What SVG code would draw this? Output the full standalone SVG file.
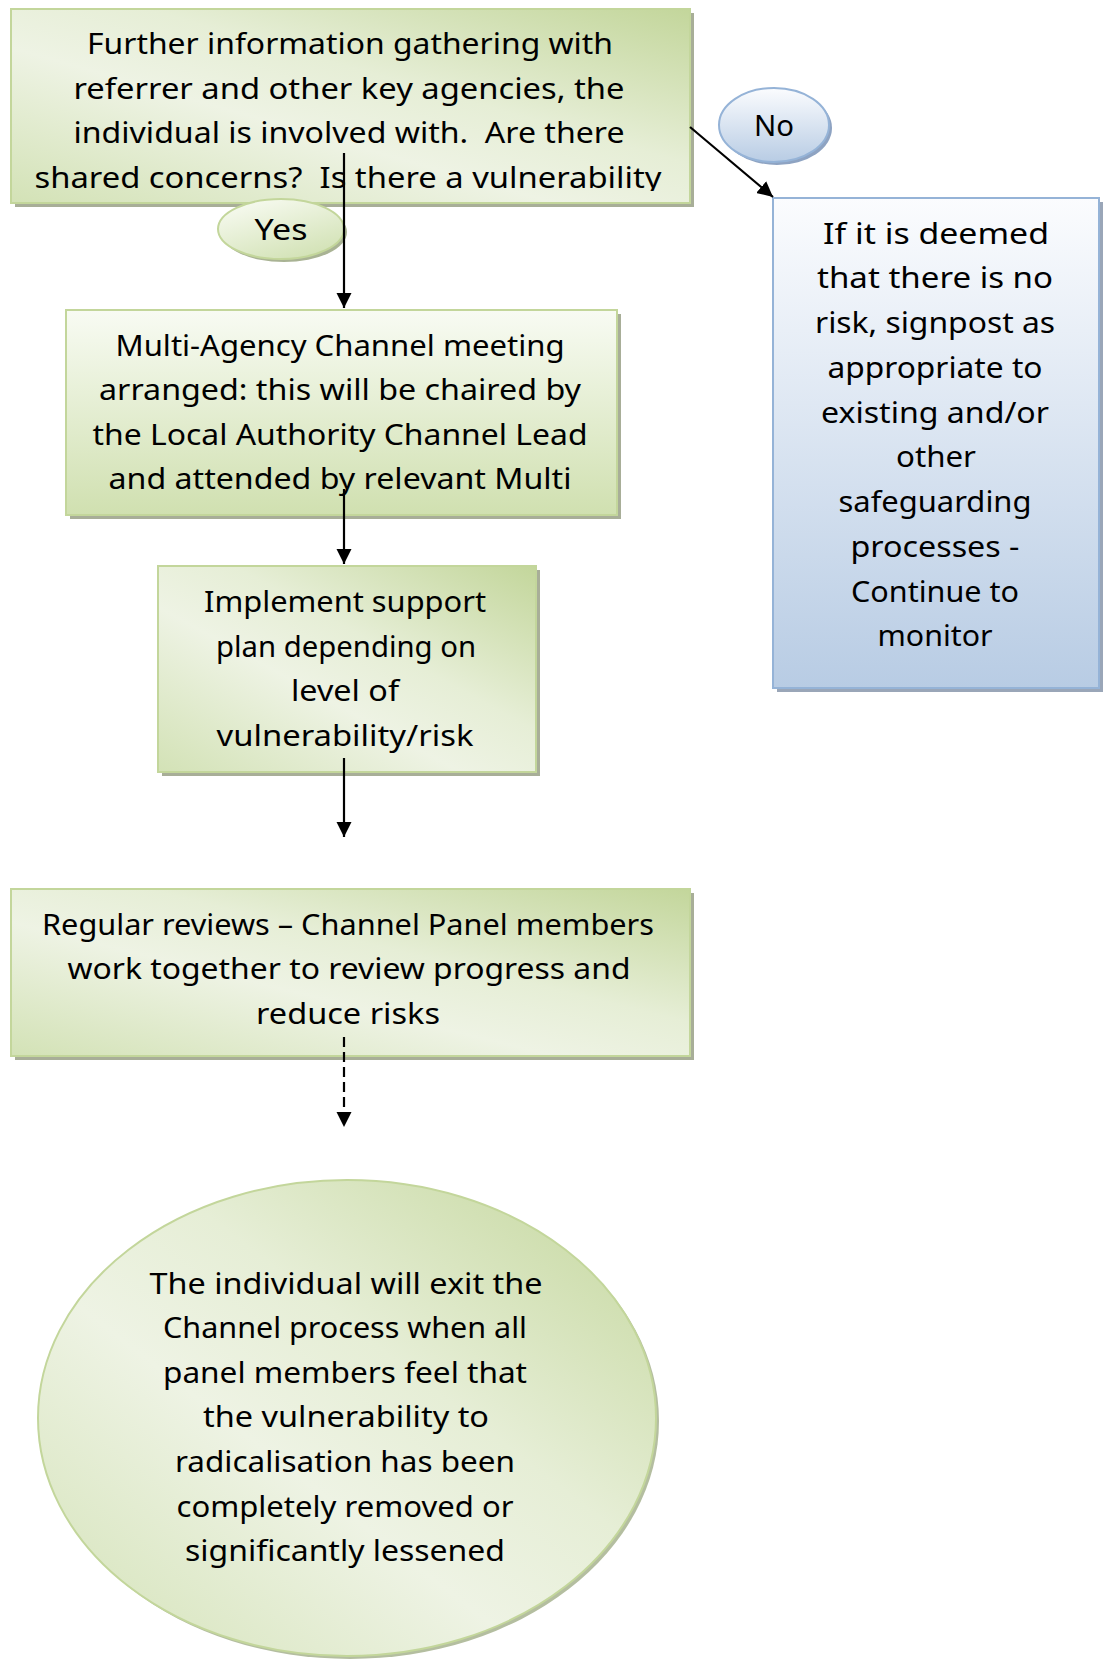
<svg xmlns="http://www.w3.org/2000/svg" width="1106" height="1660" viewBox="0 0 1106 1660">
<style>
.t{font-family:"Noto Sans","DejaVu Sans",sans-serif;font-size:29px;fill:#000;text-anchor:middle}
.g{stroke:#c3d69b;stroke-width:2}
.b{stroke:#95b3d7;stroke-width:2}
.sg{fill:#a8ae98}
.sb{fill:#9aa6b8}
.c{stroke:#000;stroke-width:2.2;fill:none}
</style>
<defs>
<linearGradient id="gd" x1="0" y1="1" x2="1" y2="0">
<stop offset="0" stop-color="#d3e2b6"/>
<stop offset="0.4" stop-color="#eef3e4"/>
<stop offset="0.6" stop-color="#e6eed6"/>
<stop offset="1" stop-color="#c3d69b"/>
</linearGradient>
<linearGradient id="gv" x1="0" y1="0" x2="0" y2="1">
<stop offset="0" stop-color="#f8fbf3"/>
<stop offset="1" stop-color="#d0e0b0"/>
</linearGradient>
<linearGradient id="bv" x1="0" y1="0" x2="0" y2="1">
<stop offset="0" stop-color="#fbfcfe"/>
<stop offset="1" stop-color="#b8cce4"/>
</linearGradient>
<linearGradient id="yv" x1="0" y1="0" x2="0.6" y2="1">
<stop offset="0" stop-color="#fbfdf7"/>
<stop offset="1" stop-color="#d4e3b8"/>
</linearGradient>
<clipPath id="clip1"><rect x="11" y="9" width="679" height="182"/></clipPath>
<marker id="ah" viewBox="0 0 10 10" refX="10" refY="5" markerWidth="7" markerHeight="7" markerUnits="strokeWidth" orient="auto">
<path d="M0,0 L10,5 L0,10 Z" fill="#000"/>
</marker>
</defs>

<g id="node-gather">
<rect class="sg" x="15" y="13" width="679" height="194"/>
<rect class="g" x="11" y="9" width="679" height="194" fill="url(#gd)"/>
<g clip-path="url(#clip1)">
<text class="t" x="350" y="54" textLength="526" lengthAdjust="spacingAndGlyphs">Further information gathering with</text>
<text class="t" x="349" y="99" textLength="551" lengthAdjust="spacingAndGlyphs">referrer and other key agencies, the</text>
<text class="t" x="349" y="143" textLength="551" lengthAdjust="spacingAndGlyphs" xml:space="preserve">individual is involved with.  Are there</text>
<text class="t" x="348" y="188" textLength="627" lengthAdjust="spacingAndGlyphs" xml:space="preserve">shared concerns?  Is there a vulnerability</text>
</g>
</g>

<g id="node-no">
<ellipse cx="777" cy="128" rx="55" ry="37" fill="#8ea3c2"/>
<ellipse class="b" cx="774" cy="125" rx="55" ry="37" fill="url(#bv)"/>
<text class="t" x="774" y="136" textLength="40" lengthAdjust="spacingAndGlyphs">No</text>
</g>

<g id="node-norisk">
<rect class="sb" x="777" y="202" width="326" height="490"/>
<rect class="b" x="773" y="198" width="326" height="490" fill="url(#bv)"/>
<text class="t" x="936" y="244" textLength="226" lengthAdjust="spacingAndGlyphs">If it is deemed</text>
<text class="t" x="935" y="288" textLength="236" lengthAdjust="spacingAndGlyphs">that there is no</text>
<text class="t" x="935" y="333" textLength="240" lengthAdjust="spacingAndGlyphs">risk, signpost as</text>
<text class="t" x="935" y="378" textLength="215" lengthAdjust="spacingAndGlyphs">appropriate to</text>
<text class="t" x="935" y="423" textLength="228" lengthAdjust="spacingAndGlyphs">existing and/or</text>
<text class="t" x="936" y="467" textLength="80" lengthAdjust="spacingAndGlyphs">other</text>
<text class="t" x="935" y="512" textLength="193" lengthAdjust="spacingAndGlyphs">safeguarding</text>
<text class="t" x="935" y="557" textLength="169" lengthAdjust="spacingAndGlyphs">processes -</text>
<text class="t" x="935" y="602" textLength="168" lengthAdjust="spacingAndGlyphs">Continue to</text>
<text class="t" x="935" y="646" textLength="115" lengthAdjust="spacingAndGlyphs">monitor</text>
</g>

<g id="node-yes">
<ellipse cx="284" cy="232" rx="63" ry="30" fill="#a9b394"/>
<ellipse class="g" cx="281" cy="229" rx="63" ry="30" fill="url(#yv)"/>
<text class="t" x="281" y="240" textLength="53" lengthAdjust="spacingAndGlyphs">Yes</text>
</g>

<g id="node-meeting">
<rect class="sg" x="70" y="314" width="551" height="205"/>
<rect class="g" x="66" y="310" width="551" height="205" fill="url(#gv)"/>
<text class="t" x="340" y="356" textLength="449" lengthAdjust="spacingAndGlyphs">Multi-Agency Channel meeting</text>
<text class="t" x="340" y="400" textLength="482" lengthAdjust="spacingAndGlyphs">arranged: this will be chaired by</text>
<text class="t" x="340" y="445" textLength="495" lengthAdjust="spacingAndGlyphs">the Local Authority Channel Lead</text>
<text class="t" x="340" y="489" textLength="463" lengthAdjust="spacingAndGlyphs">and attended by relevant Multi</text>
</g>

<g id="node-implement">
<rect class="sg" x="162" y="570" width="378" height="206"/>
<rect class="g" x="158" y="566" width="378" height="206" fill="url(#gd)"/>
<text class="t" x="345" y="612" textLength="282" lengthAdjust="spacingAndGlyphs">Implement support</text>
<text class="t" x="346" y="657" textLength="260" lengthAdjust="spacingAndGlyphs">plan depending on</text>
<text class="t" x="345" y="701" textLength="108" lengthAdjust="spacingAndGlyphs">level of</text>
<text class="t" x="345" y="746" textLength="257" lengthAdjust="spacingAndGlyphs">vulnerability/risk</text>
</g>

<g id="node-review">
<rect class="sg" x="15" y="893" width="679" height="167"/>
<rect class="g" x="11" y="889" width="679" height="167" fill="url(#gd)"/>
<text class="t" x="348" y="935" textLength="612" lengthAdjust="spacingAndGlyphs">Regular reviews – Channel Panel members</text>
<text class="t" x="349" y="979" textLength="563" lengthAdjust="spacingAndGlyphs">work together to review progress and</text>
<text class="t" x="348" y="1024" textLength="184" lengthAdjust="spacingAndGlyphs">reduce risks</text>
</g>

<g id="node-exit">
<ellipse cx="350" cy="1421" rx="309" ry="238" fill="#b4bea0"/>
<ellipse class="g" cx="347" cy="1418" rx="309" ry="238" fill="url(#gd)"/>
<text class="t" x="346" y="1294" textLength="393" lengthAdjust="spacingAndGlyphs">The individual will exit the</text>
<text class="t" x="345" y="1338" textLength="364" lengthAdjust="spacingAndGlyphs">Channel process when all</text>
<text class="t" x="345" y="1383" textLength="364" lengthAdjust="spacingAndGlyphs">panel members feel that</text>
<text class="t" x="346" y="1427" textLength="286" lengthAdjust="spacingAndGlyphs">the vulnerability to</text>
<text class="t" x="345" y="1472" textLength="340" lengthAdjust="spacingAndGlyphs">radicalisation has been</text>
<text class="t" x="345" y="1517" textLength="337" lengthAdjust="spacingAndGlyphs">completely removed or</text>
<text class="t" x="345" y="1561" textLength="320" lengthAdjust="spacingAndGlyphs">significantly lessened</text>
</g>

<g id="connectors">
<line class="c" x1="344" y1="153" x2="344" y2="308" marker-end="url(#ah)"/>
<line class="c" x1="690" y1="127" x2="773" y2="197" marker-end="url(#ah)"/>
<line class="c" x1="344" y1="489" x2="344" y2="564" marker-end="url(#ah)"/>
<line class="c" x1="344" y1="758" x2="344" y2="837" marker-end="url(#ah)"/>
<line class="c" x1="344" y1="1037" x2="344" y2="1127" stroke-dasharray="10 5" marker-end="url(#ah)"/>
</g>
</svg>
